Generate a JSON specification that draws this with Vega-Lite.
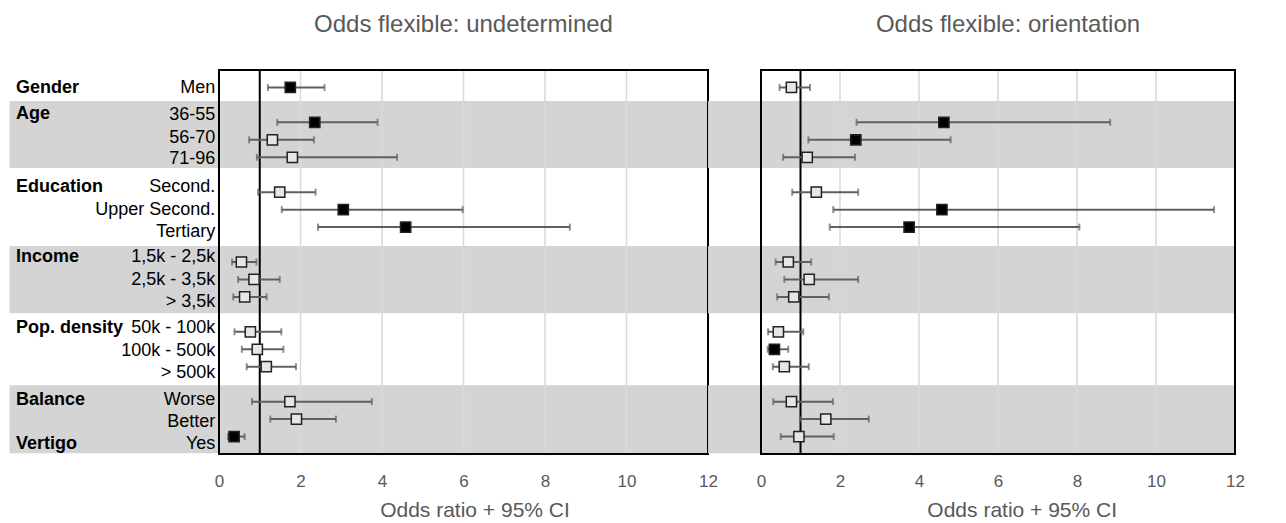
{
  "$schema": "https://vega.github.io/schema/vega-lite/v6.json",
  "background": "white",
  "padding": {"left": 9, "top": 13, "right": 10, "bottom": 5},
  "config": {"font": "Liberation Sans", "view": {"stroke": null}},
  "datasets": {
    "est": [
      {"panel": "undetermined", "item": "Men", "row": 1, "or": 1.75, "lo": 1.20, "hi": 2.59, "sig": true},
      {"panel": "undetermined", "item": "36-55", "row": 3, "or": 2.35, "lo": 1.43, "hi": 3.89, "sig": true},
      {"panel": "undetermined", "item": "56-70", "row": 4, "or": 1.31, "lo": 0.74, "hi": 2.33, "sig": false},
      {"panel": "undetermined", "item": "71-96", "row": 5, "or": 1.80, "lo": 0.93, "hi": 4.37, "sig": false},
      {"panel": "undetermined", "item": "Second.", "row": 7, "or": 1.49, "lo": 0.96, "hi": 2.37, "sig": false},
      {"panel": "undetermined", "item": "Upper Second.", "row": 8, "or": 3.05, "lo": 1.54, "hi": 5.98, "sig": true},
      {"panel": "undetermined", "item": "Tertiary", "row": 9, "or": 4.58, "lo": 2.43, "hi": 8.61, "sig": true},
      {"panel": "undetermined", "item": "1,5k - 2,5k", "row": 11, "or": 0.55, "lo": 0.32, "hi": 0.92, "sig": false},
      {"panel": "undetermined", "item": "2,5k - 3,5k", "row": 12, "or": 0.86, "lo": 0.47, "hi": 1.49, "sig": false},
      {"panel": "undetermined", "item": "> 3,5k", "row": 13, "or": 0.63, "lo": 0.35, "hi": 1.17, "sig": false},
      {"panel": "undetermined", "item": "50k - 100k", "row": 15, "or": 0.77, "lo": 0.38, "hi": 1.53, "sig": false},
      {"panel": "undetermined", "item": "100k - 500k", "row": 16, "or": 0.94, "lo": 0.56, "hi": 1.58, "sig": false},
      {"panel": "undetermined", "item": "> 500k", "row": 17, "or": 1.16, "lo": 0.68, "hi": 1.89, "sig": false},
      {"panel": "undetermined", "item": "Worse", "row": 19, "or": 1.74, "lo": 0.81, "hi": 3.75, "sig": false},
      {"panel": "undetermined", "item": "Better", "row": 20, "or": 1.90, "lo": 1.26, "hi": 2.87, "sig": false},
      {"panel": "undetermined", "item": "Yes", "row": 21, "or": 0.37, "lo": 0.22, "hi": 0.63, "sig": true},
      {"panel": "orientation", "item": "Men", "row": 1, "or": 0.77, "lo": 0.47, "hi": 1.24, "sig": false},
      {"panel": "orientation", "item": "36-55", "row": 3, "or": 4.63, "lo": 2.42, "hi": 8.84, "sig": true},
      {"panel": "orientation", "item": "56-70", "row": 4, "or": 2.40, "lo": 1.20, "hi": 4.80, "sig": true},
      {"panel": "orientation", "item": "71-96", "row": 5, "or": 1.17, "lo": 0.56, "hi": 2.38, "sig": false},
      {"panel": "orientation", "item": "Second.", "row": 7, "or": 1.40, "lo": 0.79, "hi": 2.46, "sig": false},
      {"panel": "orientation", "item": "Upper Second.", "row": 8, "or": 4.58, "lo": 1.83, "hi": 11.47, "sig": true},
      {"panel": "orientation", "item": "Tertiary", "row": 9, "or": 3.75, "lo": 1.74, "hi": 8.06, "sig": true},
      {"panel": "orientation", "item": "1,5k - 2,5k", "row": 11, "or": 0.69, "lo": 0.37, "hi": 1.27, "sig": false},
      {"panel": "orientation", "item": "2,5k - 3,5k", "row": 12, "or": 1.22, "lo": 0.59, "hi": 2.46, "sig": false},
      {"panel": "orientation", "item": "> 3,5k", "row": 13, "or": 0.83, "lo": 0.41, "hi": 1.72, "sig": false},
      {"panel": "orientation", "item": "50k - 100k", "row": 15, "or": 0.44, "lo": 0.18, "hi": 1.07, "sig": false},
      {"panel": "orientation", "item": "100k - 500k", "row": 16, "or": 0.34, "lo": 0.17, "hi": 0.69, "sig": true},
      {"panel": "orientation", "item": "> 500k", "row": 17, "or": 0.59, "lo": 0.30, "hi": 1.21, "sig": false},
      {"panel": "orientation", "item": "Worse", "row": 19, "or": 0.77, "lo": 0.31, "hi": 1.82, "sig": false},
      {"panel": "orientation", "item": "Better", "row": 20, "or": 1.64, "lo": 1.00, "hi": 2.73, "sig": false},
      {"panel": "orientation", "item": "Yes", "row": 21, "or": 0.96, "lo": 0.50, "hi": 1.84, "sig": false}
    ],
    "labels": [
      {"label": "Men", "pos": 1.01},
      {"label": "36-55", "pos": 2.58},
      {"label": "56-70", "pos": 3.88},
      {"label": "71-96", "pos": 5.12},
      {"label": "Second.", "pos": 6.69},
      {"label": "Upper Second.", "pos": 8.02},
      {"label": "Tertiary", "pos": 9.26},
      {"label": "1,5k - 2,5k", "pos": 10.73},
      {"label": "2,5k - 3,5k\u00a0\u00a0", "pos": 12.03},
      {"label": "> 3,5k", "pos": 13.28},
      {"label": "50k - 100k", "pos": 14.80},
      {"label": "100k - 500k", "pos": 16.10},
      {"label": "> 500k", "pos": 17.36},
      {"label": "Worse", "pos": 18.91},
      {"label": "Better", "pos": 20.17},
      {"label": "Yes", "pos": 21.44}
    ],
    "groups": [
      {"group": "Gender", "pos": 1.01},
      {"group": "Age", "pos": 2.54},
      {"group": "Education", "pos": 6.69},
      {"group": "Income", "pos": 10.73},
      {"group": "Pop. density", "pos": 14.80},
      {"group": "Balance", "pos": 18.91},
      {"group": "Vertigo", "pos": 21.44}
    ],
    "bands": [
      {"y0": 1.78, "y1": 5.61},
      {"y0": 10.08, "y1": 13.94},
      {"y0": 18.06, "y1": 21.96}
    ],
    "grid": [{"v": 2}, {"v": 4}, {"v": 6}, {"v": 8}, {"v": 10}],
    "one": [{}]
  },
  "spacing": 53,
  "bounds": "flush",
  "hconcat": [
    {
      "width": 489,
      "height": 384,
      "title": {"text": "Odds flexible: undetermined", "fontSize": 24, "fontWeight": "normal", "color": "#595959", "frame": "group", "anchor": "middle", "offset": 32},
      "layer": [
        {
          "data": {"name": "bands"},
          "mark": {"type": "rect", "color": "#d4d4d4"},
          "encoding": {
            "x": {"datum": -5.14, "type": "quantitative", "scale": {"domain": [0, 12], "nice": false, "zero": false},
              "axis": {"values": [0, 2, 4, 6, 8, 10, 12], "grid": false, "ticks": false, "domain": false, "labelFlush": false, "labelOverlap": false,
                "labelFontSize": 17, "labelColor": "#595959", "labelPadding": 19,
                "title": "Odds ratio + 95% CI", "titleFontSize": 21, "titleFontWeight": "normal", "titleColor": "#595959", "titlePadding": 10, "titleX": 255.5}},
            "x2": {"datum": 12},
            "y": {"field": "y0", "type": "quantitative", "scale": {"domain": [0, 22], "reverse": true, "nice": false, "zero": false}, "axis": null},
            "y2": {"field": "y1"}
          }
        },
        {
          "data": {"name": "grid"},
          "mark": {"type": "rule", "color": "#d9d9d9", "strokeWidth": 1.5},
          "encoding": {"x": {"field": "v", "type": "quantitative"}}
        },
        {
          "data": {"name": "one"},
          "mark": {"type": "rect", "filled": false, "color": "black", "strokeWidth": 2},
          "encoding": {"x": {"datum": 0}, "x2": {"datum": 12}, "y": {"datum": 0, "type": "quantitative", "axis": null}, "y2": {"datum": 22}}
        },
        {
          "data": {"name": "one"},
          "mark": {"type": "rule", "color": "black", "strokeWidth": 2},
          "encoding": {"x": {"datum": 1}}
        },
        {
          "data": {"name": "est"},
          "transform": [{"filter": "datum.panel === 'undetermined'"}],
          "mark": {"type": "rule", "color": "#606060", "strokeWidth": 2},
          "encoding": {"x": {"field": "lo", "type": "quantitative"}, "x2": {"field": "hi"}, "y": {"field": "row", "type": "quantitative", "axis": null}}
        },
        {
          "data": {"name": "est"},
          "transform": [{"filter": "datum.panel === 'undetermined'"}],
          "mark": {"type": "tick", "orient": "vertical", "size": 7, "thickness": 2, "color": "#606060"},
          "encoding": {"x": {"field": "lo", "type": "quantitative"}, "y": {"field": "row", "type": "quantitative", "axis": null}}
        },
        {
          "data": {"name": "est"},
          "transform": [{"filter": "datum.panel === 'undetermined'"}],
          "mark": {"type": "tick", "orient": "vertical", "size": 7, "thickness": 2, "color": "#606060"},
          "encoding": {"x": {"field": "hi", "type": "quantitative"}, "y": {"field": "row", "type": "quantitative", "axis": null}}
        },
        {
          "data": {"name": "est"},
          "transform": [{"filter": "datum.panel === 'undetermined'"}],
          "mark": {"type": "point", "shape": "square", "filled": true, "size": 105, "stroke": "#222222", "strokeWidth": 1.5, "opacity": 1},
          "encoding": {
            "x": {"field": "or", "type": "quantitative"},
            "y": {"field": "row", "type": "quantitative", "axis": null},
            "fill": {"condition": {"test": "datum.sig", "value": "black"}, "value": "#e6e6e6"}
          }
        },
        {
          "data": {"name": "labels"},
          "mark": {"type": "text", "align": "right", "baseline": "middle", "fontSize": 18, "color": "black"},
          "encoding": {"x": {"datum": -0.09}, "y": {"field": "pos", "type": "quantitative", "axis": null}, "text": {"field": "label"}}
        },
        {
          "data": {"name": "groups"},
          "mark": {"type": "text", "align": "left", "baseline": "middle", "fontSize": 18, "fontWeight": "bold", "color": "black"},
          "encoding": {"x": {"datum": -4.98}, "y": {"field": "pos", "type": "quantitative", "axis": null}, "text": {"field": "group"}}
        }
      ]
    },
    {
      "width": 474,
      "height": 384,
      "title": {"text": "Odds flexible: orientation", "fontSize": 24, "fontWeight": "normal", "color": "#595959", "frame": "group", "anchor": "middle", "offset": 32, "dx": 10},
      "layer": [
        {
          "data": {"name": "bands"},
          "mark": {"type": "rect", "color": "#d4d4d4"},
          "encoding": {
            "x": {"datum": -1.34, "type": "quantitative", "scale": {"domain": [0, 12], "nice": false, "zero": false},
              "axis": {"values": [0, 2, 4, 6, 8, 10, 12], "grid": false, "ticks": false, "domain": false, "labelFlush": false, "labelOverlap": false,
                "labelFontSize": 17, "labelColor": "#595959", "labelPadding": 19,
                "title": "Odds ratio + 95% CI", "titleFontSize": 21, "titleFontWeight": "normal", "titleColor": "#595959", "titlePadding": 10, "titleX": 260.7}},
            "x2": {"datum": 12},
            "y": {"field": "y0", "type": "quantitative", "scale": {"domain": [0, 22], "reverse": true, "nice": false, "zero": false}, "axis": null},
            "y2": {"field": "y1"}
          }
        },
        {
          "data": {"name": "grid"},
          "mark": {"type": "rule", "color": "#d9d9d9", "strokeWidth": 1.5},
          "encoding": {"x": {"field": "v", "type": "quantitative"}}
        },
        {
          "data": {"name": "one"},
          "mark": {"type": "rect", "filled": false, "color": "black", "strokeWidth": 2},
          "encoding": {"x": {"datum": 0}, "x2": {"datum": 12}, "y": {"datum": 0, "type": "quantitative", "axis": null}, "y2": {"datum": 22}}
        },
        {
          "data": {"name": "one"},
          "mark": {"type": "rule", "color": "black", "strokeWidth": 2},
          "encoding": {"x": {"datum": 1}}
        },
        {
          "data": {"name": "est"},
          "transform": [{"filter": "datum.panel === 'orientation'"}],
          "mark": {"type": "rule", "color": "#606060", "strokeWidth": 2},
          "encoding": {"x": {"field": "lo", "type": "quantitative"}, "x2": {"field": "hi"}, "y": {"field": "row", "type": "quantitative", "axis": null}}
        },
        {
          "data": {"name": "est"},
          "transform": [{"filter": "datum.panel === 'orientation'"}],
          "mark": {"type": "tick", "orient": "vertical", "size": 7, "thickness": 2, "color": "#606060"},
          "encoding": {"x": {"field": "lo", "type": "quantitative"}, "y": {"field": "row", "type": "quantitative", "axis": null}}
        },
        {
          "data": {"name": "est"},
          "transform": [{"filter": "datum.panel === 'orientation'"}],
          "mark": {"type": "tick", "orient": "vertical", "size": 7, "thickness": 2, "color": "#606060"},
          "encoding": {"x": {"field": "hi", "type": "quantitative"}, "y": {"field": "row", "type": "quantitative", "axis": null}}
        },
        {
          "data": {"name": "est"},
          "transform": [{"filter": "datum.panel === 'orientation'"}],
          "mark": {"type": "point", "shape": "square", "filled": true, "size": 105, "stroke": "#222222", "strokeWidth": 1.5, "opacity": 1},
          "encoding": {
            "x": {"field": "or", "type": "quantitative"},
            "y": {"field": "row", "type": "quantitative", "axis": null},
            "fill": {"condition": {"test": "datum.sig", "value": "black"}, "value": "#e6e6e6"}
          }
        }
      ]
    }
  ]
}
